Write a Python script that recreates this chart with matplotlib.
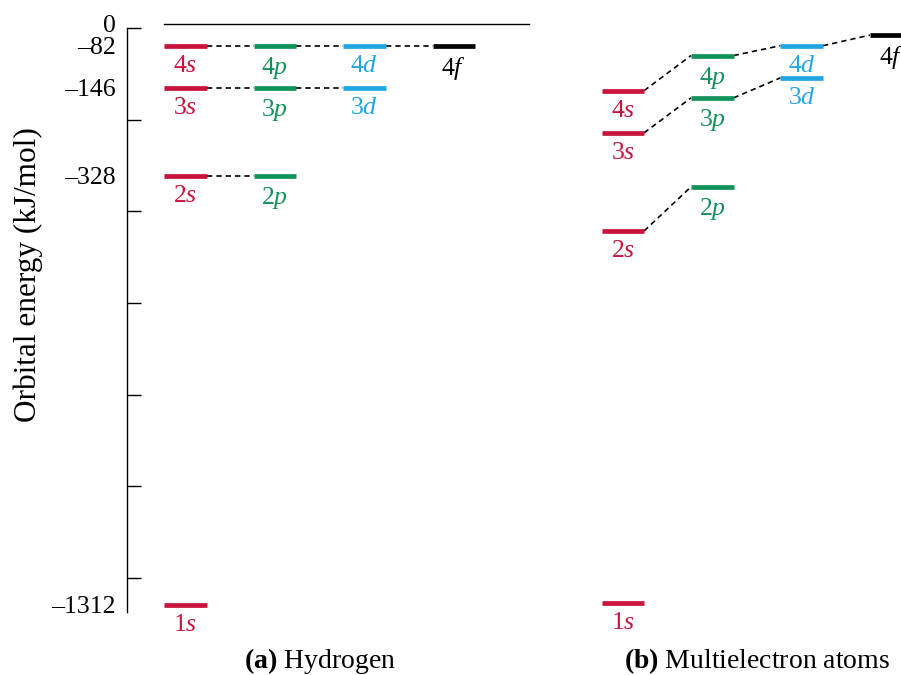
import numpy as np
import matplotlib
matplotlib.use("Agg")
import matplotlib.pyplot as plt
import matplotlib.transforms as mtransforms

matplotlib.rcParams.update({
    "font.family": "Liberation Serif",
    "mathtext.fontset": "custom",
    "mathtext.rm": "Liberation Serif",
    "mathtext.it": "Liberation Serif:italic",
    "mathtext.bf": "Liberation Serif:bold",
    "axes.unicode_minus": False,
})

# orbitals, in the same order for both panels
ORBITALS = ["1s", "2s", "2p", "3s", "3p", "3d", "4s", "4p", "4d", "4f"]
# hydrogen: energy depends only on n
HYDROGEN_E = [-1312, -328, -328, -146, -146, -146, -82, -82, -82, -82]
# multielectron atoms: schematic values (kJ/mol scale)
MULTI_E = [-1309, -454, -353, -239, -167, -131, -152, -97, -82, -42]

ENERGY_TICKS = [0, -82, -146, -328, -1312]
ENERGY_TICK_LABELS = ["0", "\u201382", "\u2013146", "\u2013328", "\u20131312"]
PANEL_TITLES = [r"$\mathbf{(a)}$ Hydrogen", r"$\mathbf{(b)}$ Multielectron atoms"]
Y_LABEL = "Orbital energy (kJ/mol)"

COLORS = {"s": "#c8133d", "p": "#11925a", "d": "#20a6e3", "f": "#000000"}
SUBSHELLS = "spdf"

# the energy axis of the original is a stretched ladder, not linear
LADDER_E = np.array([-1312.0, -328.0, -146.0, -82.0, 0.0])
LADDER_H = np.array([-580.7, -152.0, -63.7, -21.7, 0.0])


def _ladder():
    lo = (LADDER_H[1] - LADDER_H[0]) / (LADDER_E[1] - LADDER_E[0])
    hi = (LADDER_H[-1] - LADDER_H[-2]) / (LADDER_E[-1] - LADDER_E[-2])
    e = np.concatenate([[-5000.0], LADDER_E, [1000.0]])
    h = np.concatenate([[LADDER_H[0] - lo * (5000 - 1312)], LADDER_H, [hi * 1000]])
    return e, h


E_EXT, H_EXT = _ladder()


def fwd(e):
    return np.interp(np.asarray(e, float), E_EXT, H_EXT)


def inv(h):
    return np.interp(np.asarray(h, float), H_EXT, E_EXT)


def draw_panel(ax, energies, offset, hw):
    levels = {}
    for name, e in zip(ORBITALS, energies):
        sub = name[1]
        x = offset + SUBSHELLS.index(sub)
        ax.hlines(e, x - hw, x + hw, colors=COLORS[sub], linewidth=3.4,
                  capstyle="butt", zorder=3)
        ax.annotate(name[0] + r"$\mathit{" + sub + "}$", xy=(x, e),
                    xytext=(0, -6.5), textcoords="offset points",
                    ha="center", va="top", fontsize=18.5, color=COLORS[sub])
        levels.setdefault(name[0], []).append((x, e))
    # dashed links between subshells of the same shell
    for n, pts in levels.items():
        pts.sort()
        for (x1, e1), (x2, e2) in zip(pts[:-1], pts[1:]):
            ax.plot([x1 + hw, x2 - hw], [e1, e2], color="black", lw=1.2,
                    ls=(0, (3.2, 2.4)), zorder=2)


fig = plt.figure(figsize=(9.01, 6.75), dpi=100)
ax = fig.add_axes([127 / 901, 63 / 675, 774 / 901, 588 / 675])
ax.set_yscale("function", functions=(fwd, inv))
ax.set_ylim(inv(-588), 0)
ax.set_xlim(-0.654, 8.0)

for side in ["top", "right", "bottom"]:
    ax.spines[side].set_visible(False)
ax.spines["left"].set_bounds(inv(-588), inv(-4))
ax.spines["left"].set_linewidth(1.0)

ax.set_xticks([])
ax.set_yticks(inv(np.linspace(-4, -554, 7)))
ax.tick_params(axis="y", which="major", direction="in", length=10,
               width=1.0, labelleft=False)
ax.set_yticks(ENERGY_TICKS, labels=ENERGY_TICK_LABELS, minor=True)
ax.tick_params(axis="y", which="minor", length=0, pad=8, labelsize=18.5)

hw = 0.238
offsets = [0.0, 4.89]

# zero-energy reference line (hydrogen panel)
ax.plot([-hw, 3.84], [0, 0], color="black", lw=1.0, clip_on=False)

draw_panel(ax, HYDROGEN_E, offsets[0], hw)
draw_panel(ax, MULTI_E, offsets[1], hw)

trans = mtransforms.blended_transform_factory(ax.transData, fig.transFigure)
for title, off in zip(PANEL_TITLES, offsets):
    ax.text(off + 1.5, 14 / 675, title, transform=trans, ha="center",
            va="center", fontsize=20)

fig.text(28 / 901, 400 / 675, Y_LABEL, rotation=90, ha="center",
         va="center", fontsize=22.5)

fig.savefig("out.png", dpi=100)
